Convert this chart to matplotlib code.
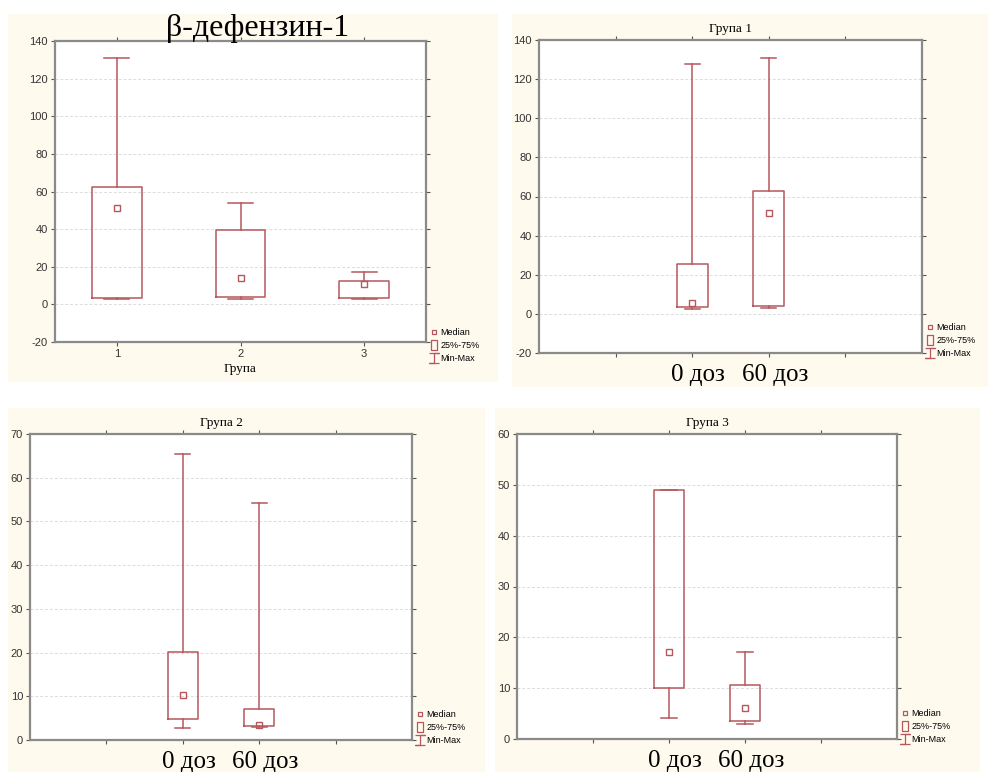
import matplotlib
matplotlib.use("Agg")
import matplotlib.pyplot as plt
from matplotlib.patches import Rectangle
from matplotlib.lines import Line2D

plt.rcParams['axes.unicode_minus'] = False

W, H = 988, 772

# --- data ---
all_pos = [1, 2, 3]
all_ticks = ['1', '2', '3']
all_min = [2.7, 2.9, 2.8]
all_q1 = [3.4, 3.7, 3.4]
all_med = [51.1, 13.9, 10.8]
all_q3 = [62.2, 39.5, 12.6]
all_max = [130.8, 54.1, 17.0]

dose_labels = ['0 доз', '60 доз']
dose_pos = [2, 3]

g1_min = [2.5, 3.0]
g1_q1 = [3.3, 3.9]
g1_med = [5.6, 51.6]
g1_q3 = [25.5, 62.6]
g1_max = [127.9, 130.8]

g2_min = [2.8, 3.0]
g2_q1 = [4.8, 3.2]
g2_med = [10.3, 3.4]
g2_q3 = [20.1, 7.2]
g2_max = [65.4, 54.2]

g3_min = [4.1, 2.9]
g3_q1 = [10.0, 3.6]
g3_med = [17.2, 6.1]
g3_q3 = [48.9, 10.7]
g3_max = [48.9, 17.2]

RED = '#b5575d'
CREAM = '#fffaee'
FRAME = '#8a8a8a'
serif = 'Liberation Serif'
sans = 'Liberation Sans'

fig = plt.figure(figsize=(W / 100, H / 100), dpi=100)
fig.patch.set_facecolor('white')


def fbox(x0, y0, x1, y1):
    # pixel box (top-left origin) -> figure fraction
    return [x0 / W, 1 - y1 / H, (x1 - x0) / W, (y1 - y0) / H]


# cream panel backgrounds
for b in [(8, 14, 498, 382), (512, 14, 988, 387), (8, 408, 485, 772), (495, 408, 980, 772)]:
    l, bt, w, h = fbox(*b)
    fig.add_artist(Rectangle((l, bt), w, h, transform=fig.transFigure,
                             facecolor=CREAM, edgecolor='none', zorder=-5))


def boxpanel(rect, pos, mins, q1s, meds, q3s, maxs, ylim, yticks, xlim, xticks, leg_y=-0.031):
    ax = fig.add_axes(fbox(*rect))
    ax.set_facecolor('white')
    stats = []
    for lo, a, m, b, hi in zip(mins, q1s, meds, q3s, maxs):
        stats.append({'whislo': lo, 'q1': a, 'med': m, 'q3': b, 'whishi': hi})
    ax.bxp(stats, positions=pos, widths=0.4, showfliers=False,
           boxprops=dict(color=RED, lw=1.1),
           whiskerprops=dict(color=RED, lw=1.1),
           capprops=dict(color=RED, lw=1.1),
           medianprops=dict(visible=False), capwidths=0.2)
    ax.plot(pos, meds, ls='none', marker='s', ms=4.5, mfc='none', mec=RED, mew=1.0)
    ax.set_ylim(*ylim)
    ax.set_xlim(*xlim)
    ax.set_yticks(yticks)
    ax.set_xticks(xticks)
    ax.yaxis.grid(True, color='#dcdcdc', ls=(0, (3, 2)), lw=0.7)
    ax.set_axisbelow(True)
    for s in ax.spines.values():
        s.set_color(FRAME)
        s.set_linewidth(1.6)
    ax.tick_params(direction='out', length=3, width=0.8, color='#555555',
                   top=True, right=True, labelsize=8, pad=2, labelcolor='#333333')
    for t in ax.get_yticklabels():
        t.set_fontfamily(sans)
    handles = [
        Line2D([], [], ls='none', marker='s', ms=3.5, mfc='none', mec=RED, mew=0.9),
        Line2D([], [], ls='none', marker=[(-0.6, -1), (0.6, -1), (0.6, 1), (-0.6, 1), (-0.6, -1)],
               ms=7.5, mfc='none', mec=RED, mew=0.9),
        Line2D([], [], ls='none', marker=[(-1, 1), (1, 1), (0, 1), (0, -1), (-1, -1), (1, -1)],
               ms=6.5, mfc='none', mec=RED, mew=0.9),
    ]
    ax.legend(handles, ['Median', '25%-75%', 'Min-Max'], loc='lower left',
              bbox_to_anchor=(1.0, leg_y), frameon=False, handlelength=0.8,
              handletextpad=0.3, labelspacing=0.45, borderpad=0,
              prop={'family': sans, 'size': 6.5})
    return ax


# panel 1: all groups
ax1 = boxpanel((55, 41, 426, 342), all_pos, all_min, all_q1, all_med, all_q3, all_max,
               (-20, 140), range(-20, 141, 20), (0.5, 3.5), all_pos, leg_y=-0.086)
ax1.set_xticklabels(all_ticks, fontfamily=sans)
ax1.set_xlabel('Група', fontfamily=serif, fontsize=9.5, labelpad=3)
ax1.text(0.545, 1.017, 'β-дефензин-1', transform=ax1.transAxes, ha='center',
         va='baseline', fontfamily=serif, fontsize=23)

# panel 2: group 1
ax2 = boxpanel((539, 40, 922, 353), dose_pos, g1_min, g1_q1, g1_med, g1_q3, g1_max,
               (-20, 140), range(-20, 141, 20), (0, 5), [1, 2, 3, 4])
ax2.set_title('Група 1', fontfamily=serif, fontsize=9.5, pad=6)

# panel 3: group 2
ax3 = boxpanel((30, 434, 412, 740), dose_pos, g2_min, g2_q1, g2_med, g2_q3, g2_max,
               (0, 70), range(0, 71, 10), (0, 5), [1, 2, 3, 4])
ax3.set_title('Група 2', fontfamily=serif, fontsize=9.5, pad=6)

# panel 4: group 3
ax4 = boxpanel((517, 434, 897, 739), dose_pos, g3_min, g3_q1, g3_med, g3_q3, g3_max,
               (0, 60), range(0, 61, 10), (0, 5), [1, 2, 3, 4])
ax4.set_title('Група 3', fontfamily=serif, fontsize=9.5, pad=6)

for ax in (ax2, ax3, ax4):
    ax.set_xticklabels(['', '', '', ''])
    for p, lab in zip(dose_pos, dose_labels):
        ax.text(p + 0.08, -0.035, lab, transform=ax.get_xaxis_transform(),
                ha='center', va='top', fontfamily=serif, fontsize=18)

fig.savefig('out.png', dpi=100)
